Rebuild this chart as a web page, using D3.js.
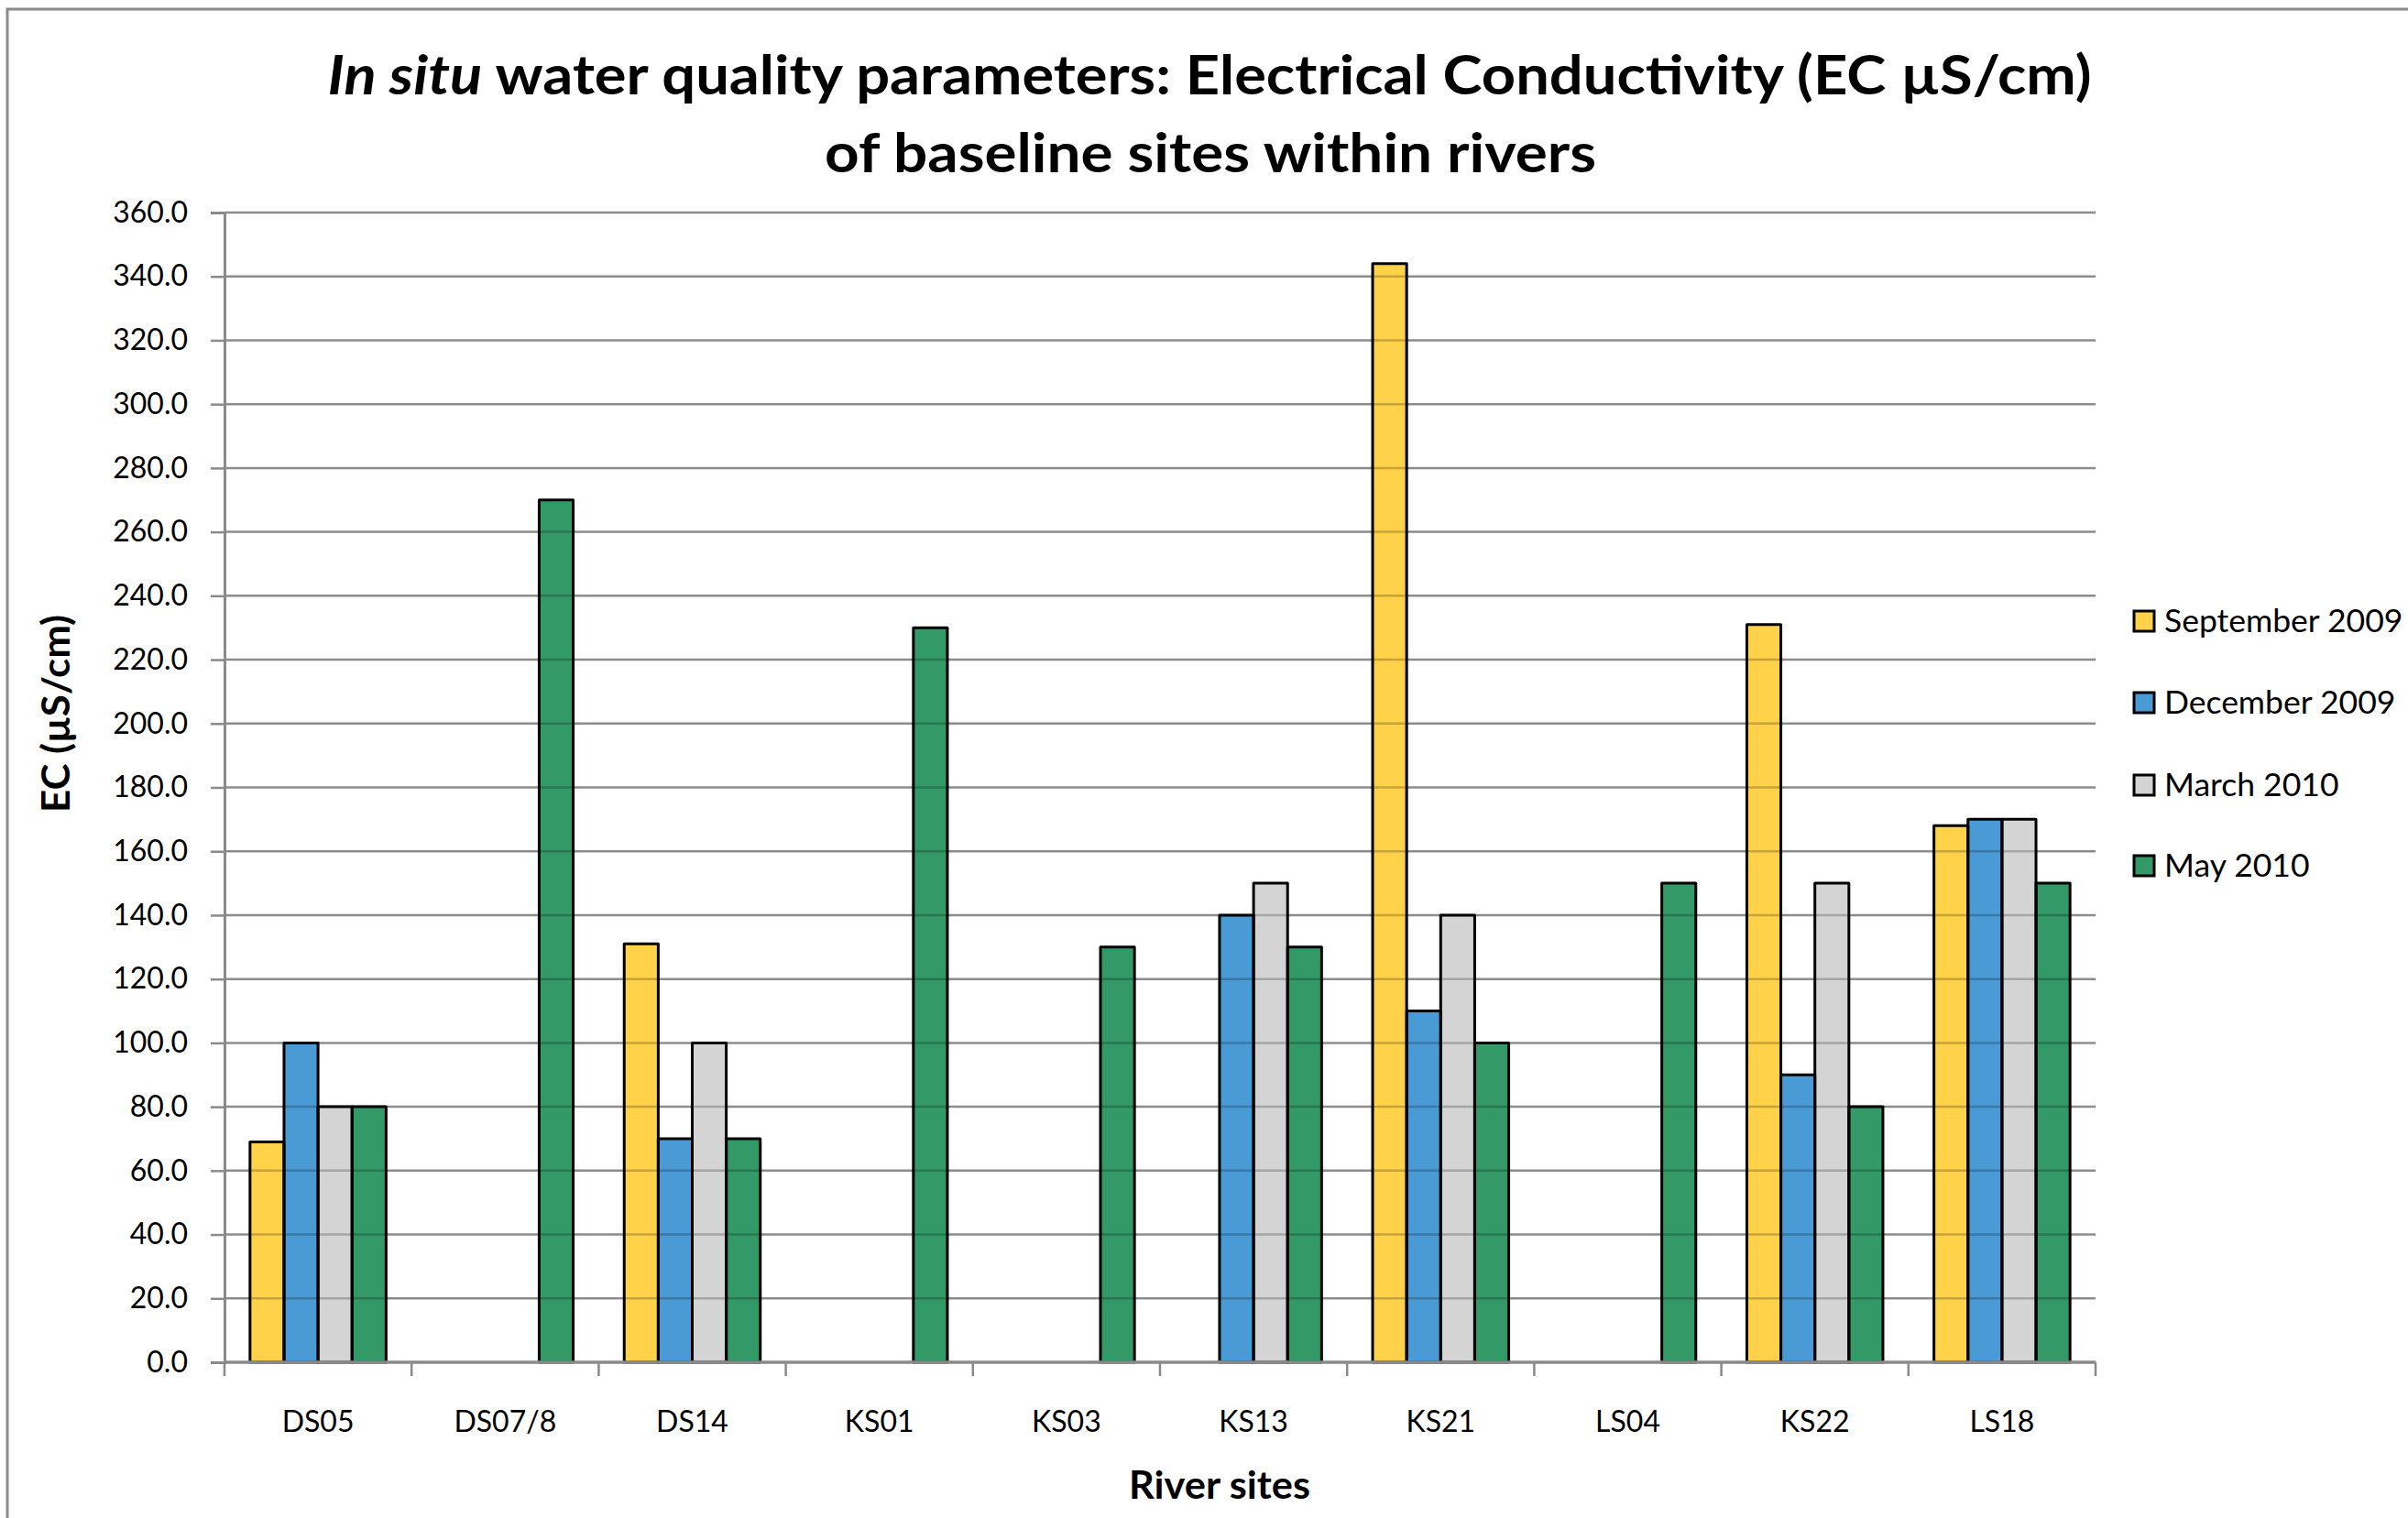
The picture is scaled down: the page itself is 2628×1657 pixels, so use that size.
<!DOCTYPE html>
<html>
<head>
<meta charset="utf-8">
<script src="https://cdn.jsdelivr.net/npm/d3@7"></script>
<style>
  html, body { margin: 0; padding: 0; background: #fff; }
  svg { display: block; }
  text { font-family: Lato, "Open Sans", sans-serif; fill: #000; }
</style>
</head>
<body>
<svg id="chart" width="2628" height="1657"></svg>
<script>
// River sites along the x axis
const sites = ["DS05", "DS07/8", "DS14", "KS01", "KS03", "KS13", "KS21", "LS04", "KS22", "LS18"];

// Sampling rounds (series)
const seriesNames = ["September 2009", "December 2009", "March 2010", "May 2010"];

// EC (µS/cm) per site for each sampling round; null = not sampled
const september2009 = [69, null, 131, null, null, null, 344, null, 231, 168];
const december2009  = [100, null, 70, null, null, 140, 110, null, 90, 170];
const march2010     = [80, null, 100, null, null, 150, 140, null, 150, 170];
const may2010       = [80, 270, 70, 230, 130, 130, 100, 150, 80, 150];

// Y axis tick values
const yTicks = [0, 20, 40, 60, 80, 100, 120, 140, 160, 180, 200, 220, 240, 260, 280, 300, 320, 340, 360];

const seriesValues = [september2009, december2009, march2010, may2010];
const colors = ["#FFD24A", "#4A9AD6", "#D4D4D4", "#339966"];

const svg = d3.select("#chart");

// chart area frame
svg.append("rect")
  .attr("x", 8).attr("y", 10)
  .attr("width", 2700).attr("height", 1700)
  .attr("fill", "#fff")
  .attr("stroke", "#8a8a8a").attr("stroke-width", 3);

const plot = { left: 245, right: 2287, top: 232, bottom: 1487 };

const x = d3.scaleBand()
  .domain(sites)
  .range([plot.left, plot.right])
  .paddingInner(0)
  .paddingOuter(0);

// bars take 4/5.5 of each band (Excel-style 150% gap)
const groupFrac = 4 / 5.5;
const xs = d3.scaleBand()
  .domain(seriesNames)
  .range([0, x.bandwidth() * groupFrac]);
const groupOffset = (x.bandwidth() - x.bandwidth() * groupFrac) / 2;

const y = d3.scaleLinear().domain([0, 360]).range([plot.bottom, plot.top]);

// horizontal gridlines
svg.append("g")
  .selectAll("line")
  .data(yTicks.filter(d => d > 0))
  .join("line")
  .attr("x1", plot.left).attr("x2", plot.right)
  .attr("y1", d => y(d)).attr("y2", d => y(d))
  .attr("stroke", "#8c8c8c").attr("stroke-width", 2.5);

// flattened bar records
const bars = [];
sites.forEach((s, i) => {
  seriesNames.forEach((n, j) => {
    const v = seriesValues[j][i];
    if (v !== null && v !== undefined) bars.push({ site: s, series: n, idx: j, value: v });
  });
});

const barX = d => x(d.site) + groupOffset + xs(d.series);

// clip path matching the bars so gridlines show faintly through them
const defs = svg.append("defs");
defs.append("clipPath").attr("id", "barClip")
  .selectAll("rect")
  .data(bars)
  .join("rect")
  .attr("x", barX)
  .attr("y", d => y(d.value))
  .attr("width", xs.bandwidth())
  .attr("height", d => y(0) - y(d.value));

svg.append("g")
  .selectAll("rect")
  .data(bars)
  .join("rect")
  .attr("x", barX)
  .attr("y", d => y(d.value))
  .attr("width", xs.bandwidth())
  .attr("height", d => y(0) - y(d.value))
  .attr("fill", d => colors[d.idx]);

svg.append("g")
  .attr("clip-path", "url(#barClip)")
  .selectAll("line")
  .data(yTicks.filter(d => d > 0))
  .join("line")
  .attr("x1", plot.left).attr("x2", plot.right)
  .attr("y1", d => y(d)).attr("y2", d => y(d))
  .attr("stroke", "rgba(0,0,0,0.22)").attr("stroke-width", 2.5);

// bar outlines
svg.append("g")
  .selectAll("rect")
  .data(bars)
  .join("rect")
  .attr("x", barX)
  .attr("y", d => y(d.value))
  .attr("width", xs.bandwidth())
  .attr("height", d => y(0) - y(d.value))
  .attr("fill", "none")
  .attr("stroke", "#000")
  .attr("stroke-width", 3)
  .attr("stroke-linejoin", "round");

// Y axis
const yAxis = svg.append("g")
  .attr("transform", `translate(${plot.left},0)`)
  .call(d3.axisLeft(y).tickValues(yTicks).tickFormat(d3.format(".1f")).tickSize(15).tickPadding(25));
yAxis.select(".domain").attr("stroke", "#8a8a8a").attr("stroke-width", 3);
yAxis.selectAll(".tick line").attr("stroke", "#8a8a8a").attr("stroke-width", 2.5);
yAxis.selectAll(".tick text")
  .attr("font-family", "Lato, sans-serif")
  .attr("font-size", 32)
  .attr("fill", "#000");

// X axis: ticks at band boundaries, labels centred in bands
const xAxisG = svg.append("g");
xAxisG.append("line")
  .attr("x1", plot.left).attr("x2", plot.right)
  .attr("y1", plot.bottom).attr("y2", plot.bottom)
  .attr("stroke", "#8a8a8a").attr("stroke-width", 3.5);
const boundaries = sites.map(s => x(s)).concat([x(sites[sites.length - 1]) + x.bandwidth()]);
xAxisG.selectAll("line.tick")
  .data(boundaries)
  .join("line")
  .attr("class", "tick")
  .attr("x1", d => d).attr("x2", d => d)
  .attr("y1", plot.bottom).attr("y2", plot.bottom + 15)
  .attr("stroke", "#8a8a8a").attr("stroke-width", 2.5);
xAxisG.selectAll("text")
  .data(sites)
  .join("text")
  .attr("x", d => x(d) + x.bandwidth() / 2)
  .attr("y", 1563)
  .attr("text-anchor", "middle")
  .attr("font-size", 32)
  .text(d => d);

// Axis titles
svg.append("text")
  .attr("x", 1331).attr("y", 1636)
  .attr("text-anchor", "middle")
  .attr("font-weight", "bold")
  .attr("font-size", 42)
  .attr("textLength", 198)
  .attr("lengthAdjust", "spacingAndGlyphs")
  .text("River sites");

svg.append("text")
  .attr("transform", "translate(76,779) rotate(-90)")
  .attr("text-anchor", "middle")
  .attr("font-weight", "bold")
  .attr("font-size", 42)
  .attr("textLength", 216)
  .attr("lengthAdjust", "spacingAndGlyphs")
  .text("EC (µS/cm)");

// Title, two lines
const title1 = svg.append("text")
  .attr("x", 1320).attr("y", 103)
  .attr("text-anchor", "middle")
  .attr("font-weight", "bold")
  .attr("font-size", 60)
  .attr("textLength", 1925)
  .attr("lengthAdjust", "spacingAndGlyphs");
title1.append("tspan").attr("font-style", "italic").text("In situ");
title1.append("tspan").text(" water quality parameters: Electrical Conductivity (EC µS/cm)");

svg.append("text")
  .attr("x", 1321).attr("y", 188)
  .attr("text-anchor", "middle")
  .attr("font-weight", "bold")
  .attr("font-size", 60)
  .attr("textLength", 842)
  .attr("lengthAdjust", "spacingAndGlyphs")
  .text("of baseline sites within rivers");

// Legend
const legend = svg.append("g");
const legendY = [678, 767, 857, 945];
const lg = legend.selectAll("g")
  .data(seriesNames)
  .join("g")
  .attr("transform", (d, i) => `translate(2329,${legendY[i]})`);
lg.append("rect")
  .attr("x", 0).attr("y", -11)
  .attr("width", 22).attr("height", 22)
  .attr("fill", (d, i) => colors[i])
  .attr("stroke", "#000").attr("stroke-width", 3);
lg.append("text")
  .attr("x", 33).attr("y", 12)
  .attr("font-size", 35.5)
  .text(d => d);
</script>
</body>
</html>
